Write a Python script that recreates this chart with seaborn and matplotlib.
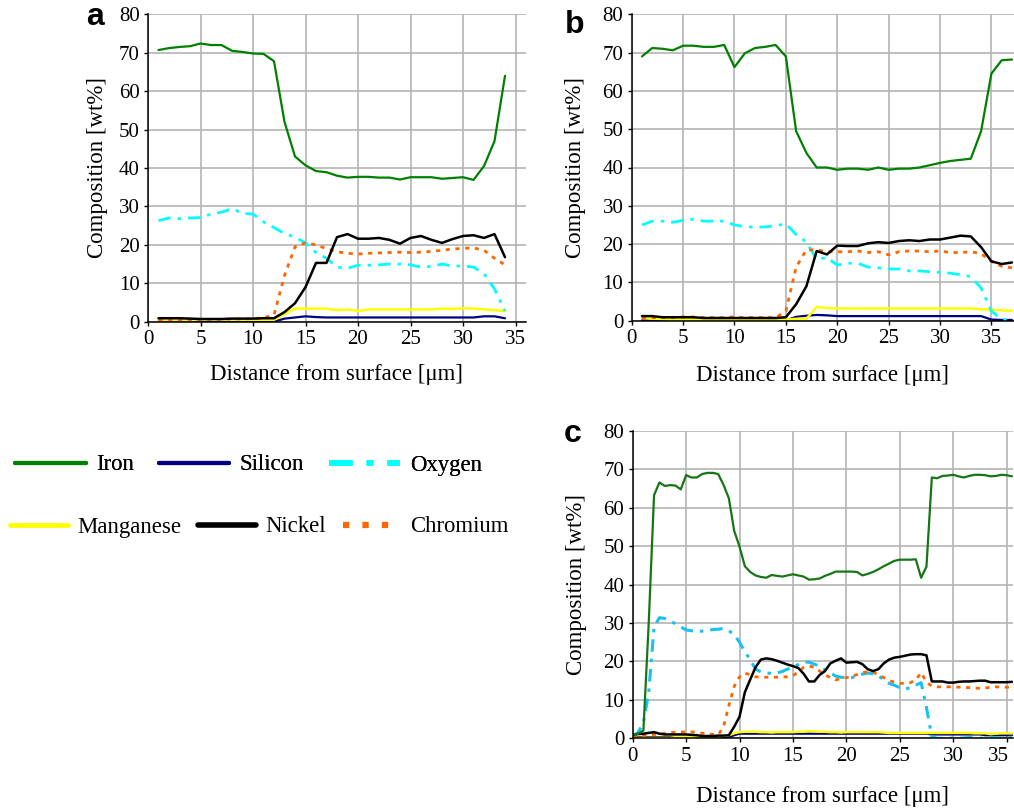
import matplotlib
matplotlib.use("Agg")
import matplotlib.pyplot as plt
from matplotlib.lines import Line2D
import matplotlib.transforms as mtransforms
import seaborn as sns
import pandas as pd

# ---------------- data ----------------
series_names = ["Iron", "Silicon", "Oxygen", "Manganese", "Nickel", "Chromium"]

# Panel a
x_a = [1, 2, 3, 4, 5, 6, 7, 8, 9, 10, 11, 12, 13, 14, 15, 16, 17, 18, 19, 20,
       21, 22, 23, 24, 25, 26, 27, 28, 29, 30, 31, 32, 33, 34]
iron_a = [70.7, 71.2, 71.5, 71.7, 72.4, 72.0, 72.0, 70.5, 70.2, 69.8, 69.7, 67.8,
          52.0, 43.0, 40.7, 39.2, 38.9, 38.0, 37.5, 37.7, 37.7, 37.5, 37.5, 37.0,
          37.6, 37.6, 37.6, 37.2, 37.4, 37.6, 36.9, 40.5, 47.0, 64.0]
silicon_a = [0.0, 0.0, 0.0, 0.0, 0.0, 0.0, 0.0, 0.0, 0.0, 0.0, 0.0, 0.0,
             0.8, 1.1, 1.4, 1.2, 1.1, 1.1, 1.1, 1.1, 1.1, 1.1, 1.1, 1.1,
             1.1, 1.1, 1.1, 1.1, 1.1, 1.1, 1.1, 1.4, 1.4, 0.9]
oxygen_a = [26.3, 27.0, 26.8, 27.0, 27.1, 28.0, 28.5, 29.4, 28.2, 28.0, 26.0, 24.5,
            22.9, 22.0, 20.5, 18.0, 16.5, 14.2, 13.9, 14.7, 14.7, 14.8, 15.0, 15.0,
            14.8, 14.2, 14.4, 15.0, 14.5, 14.5, 14.2, 12.5, 8.5, 2.8]
manganese_a = [0.4, 0.4, 0.4, 0.4, 0.5, 0.5, 0.5, 0.5, 0.5, 0.5, 0.5, 0.5,
               2.0, 3.4, 3.4, 3.4, 3.4, 3.0, 3.2, 2.8, 3.2, 3.2, 3.2, 3.2,
               3.2, 3.2, 3.2, 3.4, 3.3, 3.5, 3.4, 3.2, 3.0, 2.8]
nickel_a = [0.9, 0.9, 0.9, 0.8, 0.7, 0.7, 0.7, 0.8, 0.8, 0.8, 0.9, 0.9,
            2.5, 4.8, 9.0, 15.3, 15.3, 22.0, 22.8, 21.6, 21.6, 21.8, 21.3, 20.3,
            21.8, 22.3, 21.3, 20.5, 21.5, 22.3, 22.5, 21.8, 22.8, 16.8]
chromium_a = [0.3, 0.3, 0.4, 0.5, 0.5, 0.6, 0.6, 0.7, 0.7, 0.8, 1.0, 1.8,
              12.0, 19.5, 20.5, 20.0, 19.0, 18.2, 17.8, 17.6, 17.8, 17.9, 18.0, 18.1,
              18.0, 18.1, 18.3, 18.6, 18.9, 19.1, 19.2, 18.6, 16.5, 14.8]

# Panel b
x_b = [1, 2, 3, 4, 5, 6, 7, 8, 9, 10, 11, 12, 13, 14, 15, 16, 17, 18, 19, 20,
       21, 22, 23, 24, 25, 26, 27, 28, 29, 30, 31, 32, 33, 34, 35, 36, 37]
iron_b = [69.0, 71.2, 71.0, 70.6, 71.8, 71.8, 71.5, 71.5, 72.0, 66.2, 69.8, 71.2,
          71.5, 72.0, 69.0, 49.5, 43.8, 40.0, 40.0, 39.4, 39.7, 39.7, 39.4, 40.0,
          39.4, 39.7, 39.7, 40.0, 40.6, 41.2, 41.7, 42.0, 42.3, 49.5, 64.5, 68.0, 68.2]
silicon_b = [0.1, 0.1, 0.1, 0.1, 0.1, 0.1, 0.1, 0.1, 0.1, 0.1, 0.1, 0.1,
             0.1, 0.1, 0.1, 1.0, 1.3, 1.5, 1.4, 1.2, 1.2, 1.2, 1.2, 1.2,
             1.2, 1.2, 1.2, 1.2, 1.2, 1.2, 1.2, 1.2, 1.2, 1.2, 0.3, 0.2, 0.2]
oxygen_b = [25.0, 26.0, 26.0, 25.7, 26.2, 26.5, 26.0, 26.0, 26.0, 25.0, 24.6, 24.4,
            24.5, 24.8, 25.3, 22.5, 20.5, 16.0, 16.5, 14.5, 15.0, 15.0, 14.0, 13.8,
            13.5, 13.5, 13.0, 13.0, 12.8, 12.6, 12.4, 12.0, 11.5, 8.5, 2.5, 0.3, 0.3]
manganese_b = [0.7, 0.5, 0.4, 0.3, 0.3, 0.3, 0.3, 0.3, 0.3, 0.3, 0.3, 0.3,
               0.3, 0.3, 0.3, 0.5, 0.5, 3.6, 3.3, 3.2, 3.2, 3.2, 3.2, 3.2,
               3.2, 3.2, 3.2, 3.2, 3.2, 3.2, 3.2, 3.2, 3.2, 3.0, 2.9, 2.7, 2.6]
nickel_b = [1.2, 1.2, 0.9, 0.9, 0.9, 0.9, 0.7, 0.7, 0.7, 0.7, 0.7, 0.7,
            0.7, 0.7, 0.9, 4.3, 9.0, 18.2, 17.3, 19.6, 19.5, 19.5, 20.2, 20.5,
            20.3, 20.8, 21.0, 20.8, 21.2, 21.2, 21.7, 22.2, 22.0, 19.2, 15.5, 14.8, 15.2]
chromium_b = [0.8, 0.8, 0.8, 0.8, 1.0, 1.0, 0.8, 0.8, 0.8, 1.0, 0.8, 0.8,
              0.8, 0.8, 2.5, 14.0, 18.5, 18.5, 18.0, 18.0, 18.0, 18.2, 17.8, 18.0,
              17.2, 18.0, 18.2, 18.2, 18.0, 18.2, 17.8, 17.8, 18.0, 17.5, 15.5, 14.2, 13.8]

# Panel c
x_c = [0.0, 0.5, 1.0, 1.5, 2.0, 2.5, 3.0, 3.5, 4.0, 4.5, 5.0, 5.5, 6.0, 6.5, 7.0, 7.5,
       8.0, 8.5, 9.0, 9.5, 10.0, 10.5, 11.0, 11.5, 12.0, 12.5, 13.0, 13.5, 14.0, 14.5,
       15.0, 15.5, 16.0, 16.5, 17.0, 17.5, 18.0, 18.5, 19.0, 19.5, 20.0, 20.5, 21.0,
       21.5, 22.0, 22.5, 23.0, 23.5, 24.0, 24.5, 25.0, 25.5, 26.0, 26.5, 27.0, 27.5,
       28.0, 28.5, 29.0, 29.5, 30.0, 30.5, 31.0, 31.5, 32.0, 32.5, 33.0, 33.5, 34.0,
       34.5, 35.0, 35.5]
iron_c = [1.0, 1.2, 2.0, 30.0, 63.3, 66.6, 65.7, 65.9, 65.8, 64.8, 68.5, 67.9, 67.9, 68.8,
          69.1, 69.1, 68.8, 66.0, 62.5, 54.0, 49.9, 44.8, 43.3, 42.4, 42.0, 41.8, 42.5,
          42.3, 42.1, 42.4, 42.7, 42.4, 42.1, 41.3, 41.4, 41.6, 42.3, 42.8, 43.4, 43.4,
          43.4, 43.4, 43.3, 42.4, 42.8, 43.3, 44.0, 44.8, 45.5, 46.2, 46.5, 46.5, 46.5,
          46.6, 41.8, 44.7, 67.9, 67.7, 68.3, 68.4, 68.6, 68.2, 67.9, 68.3, 68.6, 68.6,
          68.5, 68.2, 68.3, 68.6, 68.5, 68.2]
silicon_c = [0.3, 0.3, 0.3, 0.3, 0.3, 0.3, 0.3, 0.3, 0.3, 0.3, 0.3, 0.3, 0.3, 0.3,
             0.3, 0.3, 0.3, 0.3, 0.3, 0.8, 1.2, 1.2, 1.2, 1.2, 1.2, 1.2, 1.2, 1.2,
             1.2, 1.2, 1.2, 1.2, 1.2, 1.2, 1.2, 1.2, 1.2, 1.2, 1.2, 1.2, 1.2, 1.2,
             1.2, 1.2, 1.2, 1.2, 1.2, 1.2, 1.2, 1.2, 1.2, 1.2, 1.2, 1.2, 1.2, 1.2,
             1.0, 1.0, 1.0, 1.0, 1.0, 1.0, 1.0, 1.0, 1.0, 1.0, 0.8, 0.8, 0.8, 0.8,
             0.8, 0.8]
oxygen_c = [0.4, 1.5, 4.0, 12.0, 29.0, 31.4, 31.2, 30.6, 29.8, 29.0, 28.2, 28.0, 27.8,
            27.9, 28.1, 28.3, 28.4, 28.6, 28.0, 27.0, 25.0, 22.5, 20.5, 18.0, 17.3, 17.0,
            16.9, 17.0, 17.4, 18.0, 18.5, 19.2, 19.9, 19.8, 19.3, 18.8, 17.8, 17.0, 16.2,
            15.9, 15.8, 15.8, 16.2, 16.7, 17.0, 16.8, 16.3, 15.2, 14.3, 13.8, 13.2, 12.8,
            13.2, 13.8, 14.5, 8.0, 0.4, 0.0, 0.0, 0.1, 0.0, 0.0, 0.1, 0.2, 0.1, 0.0, 0.1,
            0.3, 0.1, 0.0, 0.2, 0.3]
manganese_c = [0.1, 0.1, 0.1, 0.1, 0.1, 0.1, 0.1, 0.1, 0.3, 0.3, 0.5, 0.4, 0.5, 0.5,
               0.5, 0.5, 0.5, 0.6, 0.8, 1.3, 1.6, 1.7, 1.7, 1.7, 1.6, 1.6, 1.5, 1.6,
               1.6, 1.6, 1.6, 1.7, 1.7, 1.9, 1.8, 1.7, 1.7, 1.6, 1.6, 1.5, 1.6, 1.6,
               1.6, 1.6, 1.6, 1.6, 1.6, 1.5, 1.4, 1.4, 1.4, 1.4, 1.4, 1.4, 1.4, 1.4,
               1.4, 1.4, 1.4, 1.4, 1.4, 1.4, 1.4, 1.4, 1.3, 1.3, 1.3, 1.1, 1.2, 1.3,
               1.3, 1.3]
nickel_c = [1.0, 1.1, 1.2, 1.4, 1.6, 1.2, 1.0, 1.0, 1.0, 1.0, 1.0, 0.9, 0.8, 0.6, 0.6,
            0.6, 0.7, 0.7, 0.8, 3.0, 5.6, 12.0, 15.3, 18.5, 20.5, 20.8, 20.6, 20.2, 19.7,
            19.2, 18.8, 18.3, 16.8, 14.8, 14.8, 16.5, 17.5, 19.5, 20.2, 20.8, 19.7, 19.8,
            19.9, 19.3, 18.0, 17.5, 18.0, 19.5, 20.5, 21.0, 21.2, 21.5, 21.8, 21.9, 21.9,
            21.6, 14.8, 14.8, 14.8, 14.5, 14.5, 14.7, 14.8, 14.8, 14.9, 15.0, 15.0, 14.6,
            14.6, 14.6, 14.6, 14.7]
chromium_c = [0.2, 0.5, 0.7, 0.9, 1.0, 1.2, 1.3, 1.5, 1.6, 1.6, 1.7, 1.7, 1.5, 1.3, 1.2,
              1.0, 0.9, 3.0, 8.5, 13.5, 16.0, 17.0, 16.5, 16.0, 15.9, 15.9, 15.9, 15.9,
              16.0, 16.0, 16.3, 17.3, 18.5, 18.8, 18.5, 17.5, 16.5, 15.8, 15.2, 15.5, 15.8,
              16.1, 16.6, 17.1, 17.3, 17.2, 16.5, 15.8, 15.1, 14.6, 14.3, 14.3, 14.5, 15.2,
              17.1, 14.6, 13.6, 13.4, 13.4, 13.4, 13.4, 13.3, 13.2, 13.2, 13.1, 13.0, 13.1,
              13.3, 13.4, 13.3, 13.3, 13.3]

x_ticks = [0, 5, 10, 15, 20, 25, 30, 35]
y_ticks = [0, 10, 20, 30, 40, 50, 60, 70, 80]
x_label = "Distance from surface [\u03bcm]"
y_label = "Composition [wt%]"

# ---------------- style ----------------
sns.set_theme(style="whitegrid")
plt.rcParams["font.family"] = ["Liberation Serif", "DejaVu Serif"]
plt.rcParams["lines.scale_dashes"] = False
plt.rcParams["text.color"] = "black"
plt.rcParams["axes.labelcolor"] = "black"
plt.rcParams["xtick.color"] = "black"
plt.rcParams["ytick.color"] = "black"

DPI = 100
fig = plt.figure(figsize=(10.14, 8.09), dpi=DPI)

styles_ab = {
    "Iron": dict(color="#008000", linestyle="-", linewidth=1.6),
    "Silicon": dict(color="#000080", linestyle="-", linewidth=1.6),
    "Oxygen": dict(color="#00FFFF", linestyle=(0, (9, 5, 2.5, 5)), linewidth=2.0),
    "Manganese": dict(color="#FFFF00", linestyle="-", linewidth=1.8),
    "Nickel": dict(color="#000000", linestyle="-", linewidth=1.8),
    "Chromium": dict(color="#FF6600", linestyle=(0, (3, 4)), linewidth=2.0),
}
styles_c = dict(styles_ab)
styles_c["Iron"] = dict(color="#167516", linestyle="-", linewidth=1.6)
styles_c["Oxygen"] = dict(color="#19C0F0", linestyle=(0, (9, 5, 2.5, 5)), linewidth=2.2)

draw_order = ["Silicon", "Manganese", "Oxygen", "Chromium", "Nickel", "Iron"]


def make_panel(rect, xs, data, xmax, styles, letter, letter_xy, xpad, ypad):
    ax = fig.add_axes(rect)
    ax.set_facecolor("white")
    for i, name in enumerate(draw_order):
        df = pd.DataFrame({"x": xs, "y": data[name]})
        sns.lineplot(data=df, x="x", y="y", ax=ax, estimator=None, legend=False,
                     zorder=3 + i, solid_joinstyle="round", **styles[name])
    ax.set_xlim(0, xmax)
    ax.set_ylim(0, 80)
    ax.set_xticks(x_ticks)
    ax.set_yticks(y_ticks)
    ax.grid(True, color="#b4b4b4", linewidth=1.2)
    ax.set_axisbelow(True)
    for side in ["top", "right"]:
        ax.spines[side].set_visible(False)
    for side in ["left", "bottom"]:
        ax.spines[side].set_visible(True)
        ax.spines[side].set_color("black")
        ax.spines[side].set_linewidth(1.1)
        ax.spines[side].set_zorder(10)
    ax.tick_params(axis="both", which="major", direction="out", length=3,
                   width=1.0, color="black", labelsize=15, pad=3,
                   labelcolor="black", bottom=True, left=True)
    ax.set_xlabel(x_label, fontsize=16.5, labelpad=xpad, color="black")
    ax.set_ylabel(y_label, fontsize=16.5, labelpad=ypad, color="black")
    fig.text(letter_xy[0], letter_xy[1], letter, fontsize=23, fontweight="bold",
             family=["Liberation Sans", "DejaVu Sans"], va="baseline", ha="left")
    return ax


W, H = 1014.0, 809.0


def rect_px(left, top, right, bottom):
    return [left / W, 1 - bottom / H, (right - left) / W, (bottom - top) / H]


data_a = dict(Iron=iron_a, Silicon=silicon_a, Oxygen=oxygen_a,
              Manganese=manganese_a, Nickel=nickel_a, Chromium=chromium_a)
data_b = dict(Iron=iron_b, Silicon=silicon_b, Oxygen=oxygen_b,
              Manganese=manganese_b, Nickel=nickel_b, Chromium=chromium_b)
data_c = dict(Iron=iron_c, Silicon=silicon_c, Oxygen=oxygen_c,
              Manganese=manganese_c, Nickel=nickel_c, Chromium=chromium_c)

make_panel(rect_px(148, 14.3, 526, 321.7), x_a, data_a, 36.0, styles_ab, "a",
           (86 / W, 1 - 25 / H), 11, 8)
make_panel(rect_px(631.7, 14.3, 1014, 320.7), x_b, data_b, 37.2, styles_ab, "b",
           (565 / W, 1 - 33 / H), 12, 12)
ax_c = make_panel(rect_px(632.7, 431, 1013, 738.3), x_c, data_c, 35.6, styles_c, "c",
                  (564 / W, 1 - 442 / H), 14.5, 12)

# nudge last tick label of panel c inward as in the reference
fig.canvas.draw()
shift = mtransforms.ScaledTranslation(-6 / 72, 0, fig.dpi_scale_trans)
for lab in ax_c.get_xticklabels():
    if lab.get_text() == "35":
        lab.set_transform(lab.get_transform() + shift)

# ---------------- legend (two rows) ----------------
leg_styles = {
    "Iron": dict(color="#008000", linestyle="-", linewidth=3),
    "Silicon": dict(color="#000080", linestyle="-", linewidth=3),
    "Oxygen": dict(color="#00FFFF", linestyle=(0, (17, 10, 5, 10)), linewidth=4),
    "Manganese": dict(color="#FFFF00", linestyle="-", linewidth=3.5),
    "Nickel": dict(color="#000000", linestyle="-", linewidth=4),
    "Chromium": dict(color="#FF6600", linestyle=(0, (4.5, 9.5)), linewidth=4.5),
}
row1 = ["Iron", "Silicon", "Oxygen"]
row2 = ["Manganese", "Nickel", "Chromium"]

h1 = [Line2D([], [], **leg_styles[n]) for n in row1]
h2 = [Line2D([], [], **leg_styles[n]) for n in row2]

leg1 = fig.legend(h1, row1, loc="center left", bbox_to_anchor=(15 / W, 1 - 465 / H),
                  ncol=3, frameon=False, fontsize=16.4, handlelength=3.1,
                  handletextpad=0.45, columnspacing=1.1, borderpad=0,
                  borderaxespad=0, labelcolor="black")
leg2 = fig.legend(h2, row2, loc="center left", bbox_to_anchor=(10 / W, 1 - 527 / H),
                  ncol=3, frameon=False, fontsize=16.4, handlelength=2.55,
                  handletextpad=0.4, columnspacing=0.75, borderpad=0,
                  borderaxespad=0, labelcolor="black")
fig.add_artist(leg1)

fig.savefig("out.png", dpi=DPI, facecolor="white")
